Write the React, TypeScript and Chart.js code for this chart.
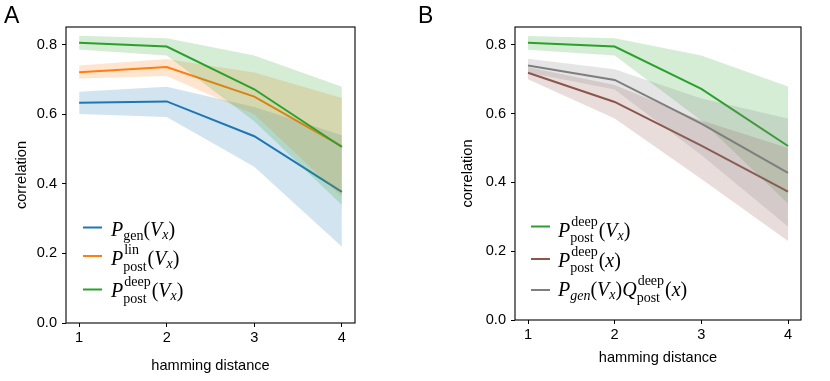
import React, { useEffect, useRef } from "react";
import { Chart, registerables } from "chart.js";

Chart.register(...registerables);

// ---------- data ----------
const hamming = [1, 2, 3, 4];
const xTickValues = [1, 2, 3, 4];
const yTickValues = [0, 0.2, 0.4, 0.6, 0.8];
const xLabel = "hamming distance";
const yLabel = "correlation";

// Panel A
const genMean = [0.633, 0.637, 0.537, 0.377];
const genUpper = [0.665, 0.679, 0.621, 0.54];
const genLower = [0.601, 0.592, 0.449, 0.219];
const linMean = [0.721, 0.736, 0.651, 0.508];
const linUpper = [0.74, 0.759, 0.72, 0.647];
const linLower = [0.703, 0.71, 0.6, 0.363];
const deepMean = [0.806, 0.795, 0.672, 0.506];
const deepUpper = [0.826, 0.819, 0.769, 0.679];
const deepLower = [0.786, 0.769, 0.58, 0.339];

// Panel B
const deepXMean = [0.719, 0.634, 0.507, 0.373];
const deepXUpper = [0.735, 0.683, 0.58, 0.5];
const deepXLower = [0.7, 0.586, 0.41, 0.23];
const prodMean = [0.74, 0.698, 0.571, 0.428];
const prodUpper = [0.76, 0.729, 0.644, 0.586];
const prodLower = [0.72, 0.67, 0.48, 0.272];

const COLORS = {
  blue: "#1f77b4",
  orange: "#ff7f0e",
  green: "#2ca02c",
  brown: "#8c564b",
  gray: "#7f7f7f",
};

// legend math labels (tokens)
type Tok =
  | { t: string; it?: boolean; small?: boolean; dy?: number }
  | { sup: string; sub: string };

const subVx: Tok[] = [{ t: "(" }, { t: "V", it: true }, { t: "x", it: true, small: true, dy: 3 }, { t: ")" }];
const labelGen: Tok[] = [{ t: "P", it: true }, { t: "gen", small: true, dy: 4 }, ...subVx];
const labelLin: Tok[] = [{ t: "P", it: true }, { sup: "lin", sub: "post" }, ...subVx];
const labelDeep: Tok[] = [{ t: "P", it: true }, { sup: "deep", sub: "post" }, ...subVx];
const labelDeepX: Tok[] = [{ t: "P", it: true }, { sup: "deep", sub: "post" }, { t: "(" }, { t: "x", it: true }, { t: ")" }];
const labelProd: Tok[] = [
  { t: "P", it: true },
  { t: "gen", it: true, small: true, dy: 4 },
  ...subVx,
  { t: "Q", it: true },
  { sup: "deep", sub: "post" },
  { t: "(" },
  { t: "x", it: true },
  { t: ")" },
];

const SANS = '"Liberation Sans", Arial, Helvetica, sans-serif';
const SERIF = '"Liberation Serif", "Times New Roman", serif';

function rgba(hex: string, a: number) {
  const n = parseInt(hex.slice(1), 16);
  return `rgba(${(n >> 16) & 255},${(n >> 8) & 255},${n & 255},${a})`;
}

function drawMath(ctx: CanvasRenderingContext2D, toks: Tok[], x0: number, y: number) {
  const big = 20;
  const sm = 14;
  let x = x0;
  ctx.fillStyle = "#000";
  ctx.textBaseline = "alphabetic";
  ctx.textAlign = "left";
  for (const tk of toks) {
    if ("sup" in tk) {
      ctx.font = `${sm}px ${SERIF}`;
      const w1 = ctx.measureText(tk.sup).width;
      const w2 = ctx.measureText(tk.sub).width;
      ctx.fillText(tk.sup, x + 1, y - 11);
      ctx.fillText(tk.sub, x, y + 5.5);
      x += Math.max(w1 + 1, w2) + 1;
    } else {
      const size = tk.small ? sm : big;
      ctx.font = `${tk.it ? "italic " : ""}${size}px ${SERIF}`;
      ctx.fillText(tk.t, x, y + (tk.dy || 0));
      x += ctx.measureText(tk.t).width;
    }
  }
}

type Series = { name: string; color: string; mean: number[]; upper: number[]; lower: number[] };
type LegendItem = { color: string; toks: Tok[]; handleY: number; baseY: number };

type PanelSpec = {
  letter: string;
  letterX: number;
  series: Series[]; // first = drawn on top
  yW: number;
  xH: number;
  padRight: number;
  yTitlePad: number;
  xTitlePad: number;
  yMax: number;
  legend: LegendItem[];
  handleX: [number, number];
  textX: number;
};

function pts(arr: number[]) {
  return hamming.map((h, i) => ({ x: h, y: arr[i] }));
}

function buildConfig(p: PanelSpec): any {
  const datasets: any[] = [];
  for (const s of p.series) {
    datasets.push({
      label: s.name + " upper",
      data: pts(s.upper),
      borderWidth: 0,
      borderColor: "rgba(0,0,0,0)",
      pointRadius: 0,
      fill: false,
    });
    datasets.push({
      label: s.name + " lower",
      data: pts(s.lower),
      borderWidth: 0,
      borderColor: "rgba(0,0,0,0)",
      backgroundColor: rgba(s.color, 0.2),
      pointRadius: 0,
      fill: "-1",
    });
    datasets.push({
      label: s.name,
      data: pts(s.mean),
      borderColor: s.color,
      borderWidth: 2,
      pointRadius: 0,
      fill: false,
    });
  }

  const framePlugin = {
    id: "frame",
    afterDatasetsDraw(chart: any) {
      const { ctx, chartArea: a } = chart;
      ctx.save();
      ctx.strokeStyle = "#000";
      ctx.lineWidth = 1.1;
      ctx.strokeRect(a.left, a.top, a.right - a.left, a.bottom - a.top);
      ctx.restore();
    },
  };

  const decorPlugin = {
    id: "decor",
    afterDraw(chart: any) {
      const ctx = chart.ctx as CanvasRenderingContext2D;
      ctx.save();
      ctx.fillStyle = "#000";
      ctx.font = `23px ${SANS}`;
      ctx.textBaseline = "alphabetic";
      ctx.textAlign = "left";
      ctx.fillText(p.letter, p.letterX, 23);
      for (const it of p.legend) {
        ctx.strokeStyle = it.color;
        ctx.lineWidth = 2;
        ctx.beginPath();
        ctx.moveTo(p.handleX[0], it.handleY);
        ctx.lineTo(p.handleX[1], it.handleY);
        ctx.stroke();
        drawMath(ctx, it.toks, p.textX, it.baseY);
      }
      ctx.restore();
    },
  };

  const tickFont = { family: SANS, size: 14.6 };
  const gridOpts = {
    display: true,
    drawOnChartArea: false,
    drawTicks: true,
    tickLength: 4,
    color: "#000",
    lineWidth: 1,
  };

  return {
    type: "line",
    data: { datasets },
    plugins: [framePlugin, decorPlugin],
    options: {
      animation: false,
      responsive: false,
      devicePixelRatio: 1,
      layout: { padding: { left: 0, top: 27, right: p.padRight, bottom: 0 } },
      plugins: { legend: { display: false }, tooltip: { enabled: false } },
      scales: {
        x: {
          type: "linear",
          min: 0.85,
          max: 4.15,
          afterBuildTicks: (s: any) => {
            s.ticks = xTickValues.map((v) => ({ value: v }));
          },
          afterFit: (s: any) => {
            s.height = p.xH;
          },
          ticks: {
            callback: (v: any) => String(v),
            font: tickFont,
            color: "#000",
            padding: 2.5,
            maxRotation: 0,
            autoSkip: false,
          },
          grid: gridOpts,
          border: { display: false },
          title: {
            display: true,
            text: xLabel,
            font: tickFont,
            color: "#000",
            padding: { top: 0, bottom: p.xTitlePad },
          },
        },
        y: {
          type: "linear",
          min: 0,
          max: p.yMax,
          afterBuildTicks: (s: any) => {
            s.ticks = yTickValues.map((v) => ({ value: v }));
          },
          afterFit: (s: any) => {
            s.width = p.yW;
          },
          ticks: {
            callback: (v: any) => Number(v).toFixed(1),
            font: tickFont,
            color: "#000",
            padding: 5,
          },
          grid: gridOpts,
          border: { display: false },
          title: {
            display: true,
            text: yLabel,
            font: tickFont,
            color: "#000",
            padding: { top: p.yTitlePad, bottom: 0 },
          },
        },
      },
    },
  };
}

const panelA: PanelSpec = {
  letter: "A",
  letterX: 4,
  series: [
    { name: "P_post^deep(V_x)", color: COLORS.green, mean: deepMean, upper: deepUpper, lower: deepLower },
    { name: "P_post^lin(V_x)", color: COLORS.orange, mean: linMean, upper: linUpper, lower: linLower },
    { name: "P_gen(V_x)", color: COLORS.blue, mean: genMean, upper: genUpper, lower: genLower },
  ],
  yW: 66,
  xH: 58,
  padRight: 60,
  yTitlePad: 13,
  xTitlePad: 6,
  yMax: 0.851,
  legend: [
    { color: COLORS.blue, toks: labelGen, handleY: 227.5, baseY: 236 },
    { color: COLORS.orange, toks: labelLin, handleY: 256, baseY: 265.3 },
    { color: COLORS.green, toks: labelDeep, handleY: 289.5, baseY: 297 },
  ],
  handleX: [83, 102],
  textX: 111,
};

const panelB: PanelSpec = {
  letter: "B",
  letterX: 3,
  series: [
    { name: "P_gen(V_x)Q_post^deep(x)", color: COLORS.gray, mean: prodMean, upper: prodUpper, lower: prodLower },
    { name: "P_post^deep(x)", color: COLORS.brown, mean: deepXMean, upper: deepXUpper, lower: deepXLower },
    { name: "P_post^deep(V_x)", color: COLORS.green, mean: deepMean, upper: deepUpper, lower: deepLower },
  ],
  yW: 100,
  xH: 61,
  padRight: 29,
  yTitlePad: 44.3,
  xTitlePad: 14.3,
  yMax: 0.852,
  legend: [
    { color: COLORS.green, toks: labelDeep, handleY: 226.5, baseY: 236.5 },
    { color: COLORS.brown, toks: labelDeepX, handleY: 259, baseY: 266.5 },
    { color: COLORS.gray, toks: labelProd, handleY: 290, baseY: 296 },
  ],
  handleX: [116, 135],
  textX: 143,
};

function Panel({ spec, left }: { spec: PanelSpec; left: number }) {
  const ref = useRef<HTMLCanvasElement | null>(null);
  useEffect(() => {
    if (!ref.current) return;
    const chart = new Chart(ref.current, buildConfig(spec));
    return () => chart.destroy();
  }, [spec]);
  return (
    <canvas
      ref={ref}
      width={415}
      height={381}
      style={{ position: "absolute", left, top: 0, width: 415, height: 381 }}
    />
  );
}

export default function App() {
  return (
    <div
      style={{
        position: "absolute",
        left: 0,
        top: 0,
        width: 830,
        height: 381,
        background: "#fff",
        overflow: "hidden",
      }}
    >
      <Panel spec={panelA} left={0} />
      <Panel spec={panelB} left={415} />
    </div>
  );
}
